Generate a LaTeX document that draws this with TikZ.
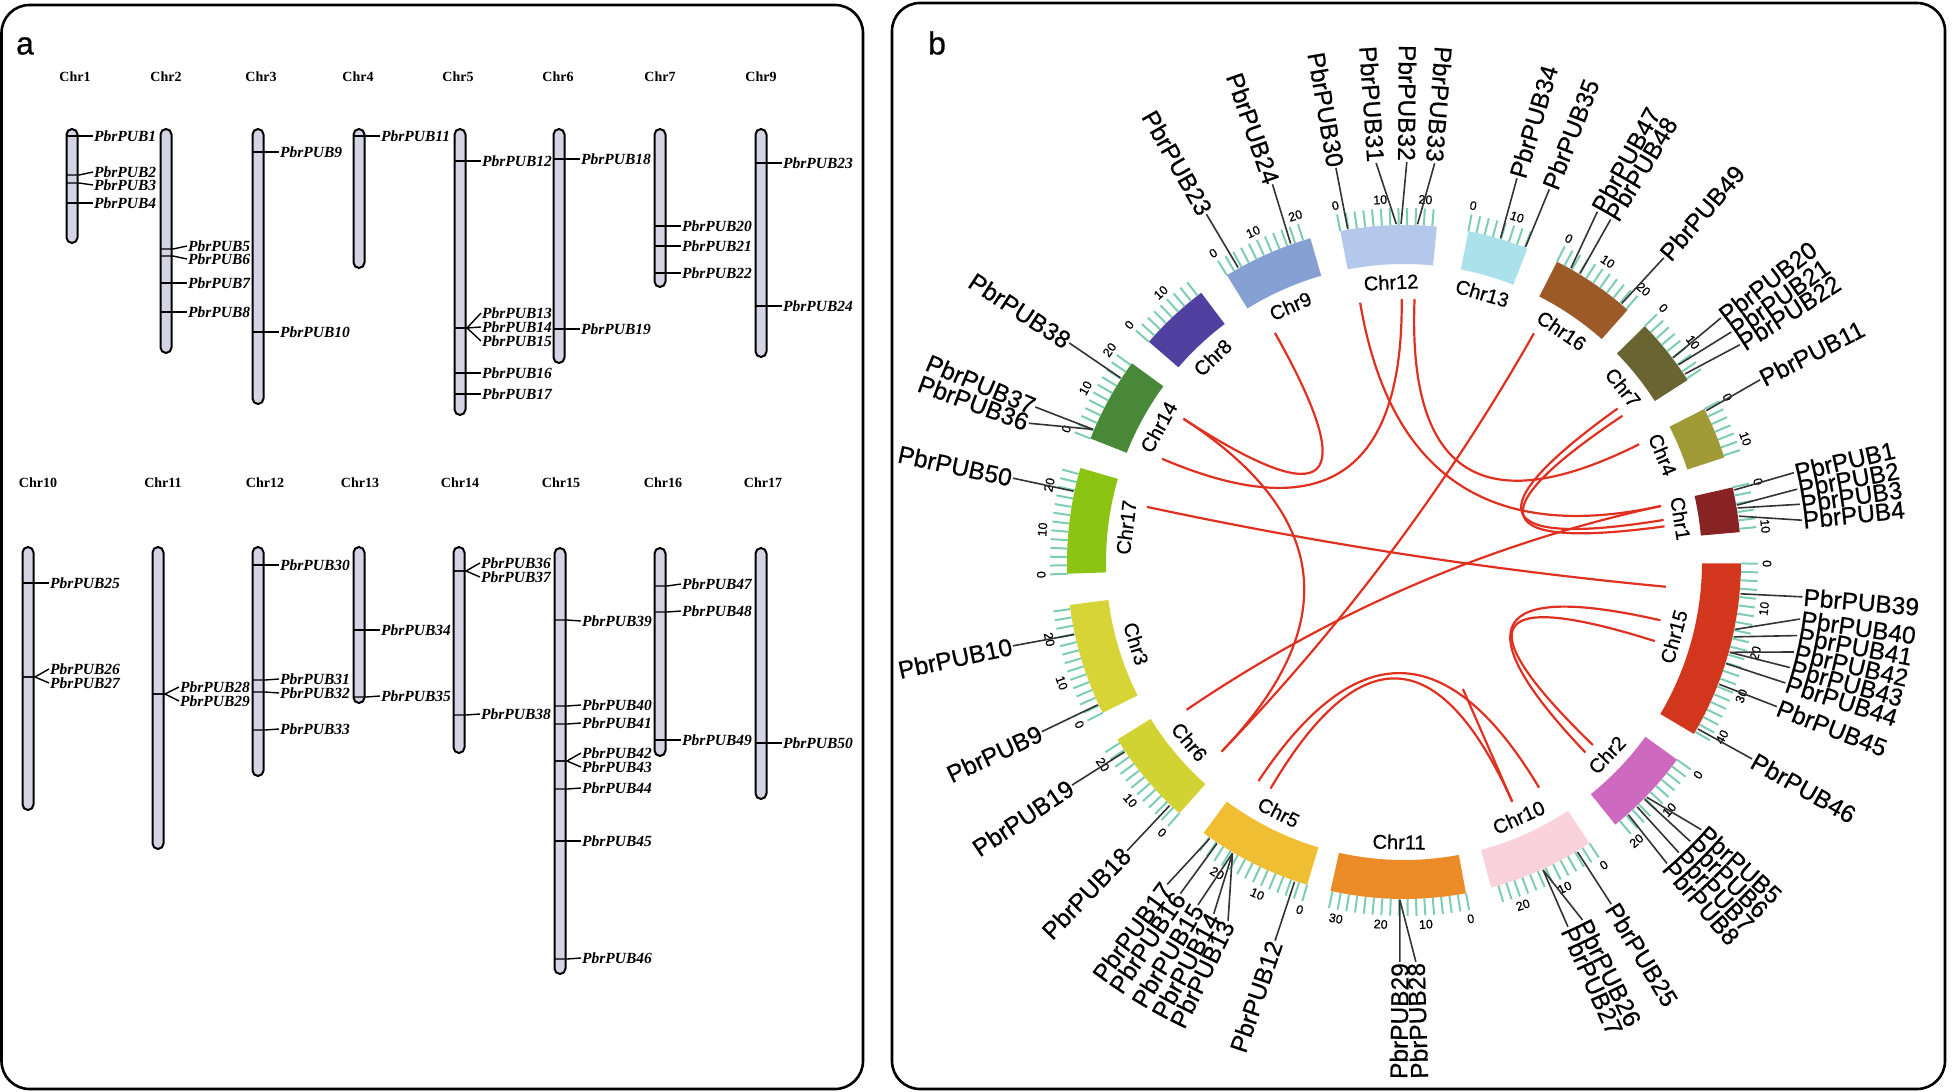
\documentclass[tikz,border=0pt]{standalone}
\usepackage{fontspec}
\setmainfont{Liberation Serif}
\newfontfamily\arialfont{Liberation Sans}[FakeBold=0.6]
\usetikzlibrary{calc}

\definecolor{barfill}{RGB}{212,212,228}
\definecolor{tickcol}{RGB}{125,205,180}
\definecolor{linkred}{RGB}{224,48,32}
\definecolor{chr1}{RGB}{135,35,35}
\definecolor{chr2}{RGB}{205,105,190}
\definecolor{chr3}{RGB}{215,212,55}
\definecolor{chr4}{RGB}{160,155,55}
\definecolor{chr5}{RGB}{240,190,50}
\definecolor{chr6}{RGB}{210,210,50}
\definecolor{chr7}{RGB}{105,100,50}
\definecolor{chr8}{RGB}{80,64,160}
\definecolor{chr9}{RGB}{135,160,212}
\definecolor{chr10}{RGB}{250,210,220}
\definecolor{chr11}{RGB}{236,140,40}
\definecolor{chr12}{RGB}{180,200,235}
\definecolor{chr13}{RGB}{170,225,235}
\definecolor{chr14}{RGB}{72,136,56}
\definecolor{chr15}{RGB}{210,55,30}
\definecolor{chr16}{RGB}{155,90,40}
\definecolor{chr17}{RGB}{140,196,20}

\tikzset{
  panel/.style={draw=black, line width=2.6pt, rounded corners=28pt},
  chrbar/.style={draw=black, line width=2pt, fill=barfill, rounded corners=5.5pt},
  genemark/.style={line width=1.4pt},
  achr/.style={font=\fontsize{14}{14}\selectfont\bfseries},
  alab/.style={font=\fontsize{15.5}{16}\selectfont\bfseries\itshape, anchor=west, inner sep=1pt},
  tickline/.style={draw=tickcol, line width=2pt},
  ticklab/.style={font=\arialfont\fontsize{12.5}{12.5}\selectfont, inner sep=0pt},
  bchr/.style={font=\arialfont\fontsize{20}{20}\selectfont, inner sep=0pt},
  blab/.style={font=\arialfont\fontsize{24.5}{24.5}\selectfont, inner sep=1pt},
  geneline/.style={draw=black!80, line width=1.6pt},
  link/.style={draw=linkred, line width=2.2pt}
}

\begin{document}
\begin{tikzpicture}[x=1pt, y=1pt]
\useasboundingbox (0,0) rectangle (1952,-1092);
\draw[panel] (1.5,-5) rectangle (863,-1089);
\draw[panel] (892,-3) rectangle (1945,-1089);
\node[font=\arialfont\fontsize{32}{32}\selectfont] (pa) at (25,-46) {a};
\node[font=\arialfont\fontsize{32}{32}\selectfont] (pb) at (937,-43) {b};

\foreach \n/\x/\lx/\ya/\yb/\ly in {1/72/75/129/243/77, 2/166/166/129/353/77, 3/258/261/129/404/77,
  4/359/358/129/268/77, 5/460/458/129/415/77, 6/559/558/129/363/77, 7/660/660/129/287/77,
  9/761/761/129/357/77, 10/28/38/547/810/483, 11/158/163/547/849/483, 12/258/265/547/776/483,
  13/359/360/547/703/483, 14/459/460/547/753/483, 15/560/561/548/974/483, 16/660/663/548/756/483,
  17/761/763/548/799/483}{
  \draw[chrbar] (\x-5.5,-\ya) rectangle (\x+5.5,-\yb);
  \node[achr] (ac\n) at (\lx,-\ly) {Chr\n};
}

\foreach \g/\x/\ym/\yt in {1/72/136/136, 2/72/175/172, 3/72/183/185, 4/72/203/203,
  5/166/249/246, 6/166/256/259, 7/166/283/283, 8/166/312/312,
  9/258/152/152, 10/258/332/332, 11/359/136/136,
  12/460/161/161, 13/460/328/313, 14/460/328/327, 15/460/328/341, 16/460/373/373, 17/460/394/394,
  18/559/159/159, 19/559/329/329, 20/660/226/226, 21/660/246/246, 22/660/273/273,
  23/761/163/163, 24/761/306/306, 25/28/583/583, 26/28/677/669, 27/28/677/683,
  28/158/694/687, 29/158/694/701, 30/258/565/565, 31/258/680/679, 32/258/692/693, 33/258/730/729,
  34/359/630/630, 35/359/697/696, 36/459/571/563, 37/459/571/577, 38/459/715/714,
  39/560/620/621, 40/560/706/705, 41/560/724/723, 42/560/761/753, 43/560/761/767,
  44/560/789/788, 45/560/841/841, 46/560/959/958, 47/660/586/584, 48/660/612/611,
  49/660/740/740, 50/761/743/743}{
  \node[alab] (a\g) at (\x+21,-\yt) {PbrPUB\g};
  \draw[genemark] (\x-5.5,-\ym) -- (\x+7,-\ym) -- (a\g.west);
}

\begin{scope}[shift={(1404,-562)}]
\coordinate (o) at (0,0);
\foreach \n/\sa/\lenmb in {12/100.9/23.1, 13/79.0/14.7, 16/63.0/20.4, 7/44.4/16.4, 4/27.0/12.5,
  1/12.8/10.8, 15/-0.25/42.6, 2/-35.9/21.4, 10/-56.6/25.8, 11/-79.4/32.5, 5/-106.7/27.7,
  6/-131.8/23.0, 3/-153.4/27.0, 17/182.0/25.5, 14/158.5/20.5, 8/139.2/17.1, 9/121.7/21.8}{
  \pgfmathsetmacro\ea{\sa-0.714*\lenmb}
  \fill[chr\n] (\sa:298) arc[start angle=\sa, end angle=\ea, radius=298] -- (\ea:337)
    arc[start angle=\ea, end angle=\sa, radius=337] -- cycle;
  \pgfmathtruncatemacro\last{\lenmb}
  \foreach \m in {0,2,...,\last}{
    \pgfmathsetmacro\a{\sa-0.714*\m}
    \draw[tickline] (\a:337) -- (\a:354);
  }
  \foreach \m in {0,10,...,\last}{
    \pgfmathsetmacro\a{\sa-0.714*\m}
    \pgfmathsetmacro\rot{\a<0 ? \a+90 : \a-90}
    \node[ticklab, rotate=\rot] at (\a:363) {\m};
  }
  \pgfmathsetmacro\amid{\sa-0.357*\lenmb}
  \pgfmathsetmacro\rot{\amid<0 ? \amid+90 : \amid-90}
  \node[bchr, rotate=\rot] (bc\n) at (\amid:280) {Chr\n};
}

\foreach \g/\tg/\tl in {1/12.3/12.9, 2/9.7/10.5, 3/9.2/8.3, 4/7.8/6.0, 5/-44.1/-42.0,
  6/-44.6/-44.3, 7/-46.4/-46.6, 8/-48.4/-48.9, 9/-155.0/-154.9, 10/-167.6/-167.9,
  11/26.6/27.1, 12/-108.9/-108.8, 13/-120.5/-116.1, 14/-120.5/-118.4, 15/-120.5/-121.0,
  16/-123.6/-124.0, 17/-125.1/-126.3, 18/-133.9/-133.8, 19/-145.8/-146.1, 20/37.2/37.6,
  21/35.7/35.1, 22/33.8/32.9, 23/119.4/119.6, 24/109.6/109.2, 25/-59.1/-58.8,
  26/-65.7/-63.5, 27/-65.7/-65.8, 28/-90.7/-88.3, 29/-90.7/-90.6, 30/99.6/99.8,
  31/91.3/94.0, 32/90.5/89.6, 33/87.7/85.6, 34/73.4/73.6, 35/68.9/68.7, 36/156.9/159.7,
  37/156.9/157.2, 38/147.0/146.8, 39/-5.4/-5.0, 40/-11.5/-8.2, 41/-12.8/-10.6,
  42/-15.5/-13.0, 43/-15.5/-15.3, 44/-17.5/-17.6, 45/-21.2/-21.2, 46/-29.6/-29.5,
  47/60.4/61.1, 48/58.6/58.9, 49/49.9/49.5, 50/167.9/167.9}{
  \pgfmathtruncatemacro\flip{abs(\tl)>84 ? 1 : 0}
  \coordinate (p\g) at (\tg:338);
  \coordinate (e\g) at (\tg:263);
  \ifnum\flip=1
    \node[blab, rotate=\tl+180, anchor=east] (b\g) at (\tl:400) {PbrPUB\g};
    \draw[geneline] (p\g) -- (b\g.east);
  \else
    \node[blab, rotate=\tl, anchor=west] (b\g) at (\tl:400) {PbrPUB\g};
    \draw[geneline] (p\g) -- (b\g.west);
  \fi
}

\foreach \u/\v in {23/38, 38/18, 36/32, 50/39, 47/18, 19/1, 30/1, 33/11, 3/21, 4/22,
  41/7, 44/5, 16/25, 13/26}
  \draw[link] (e\u) .. controls ($(e\u)!0.667!(o)$) and ($(e\v)!0.667!(o)$) .. (e\v);
\coordinate (s) at (58.9,-126.9);
\draw[link] (s) -- (e26);
\end{scope}
\end{tikzpicture}
\end{document}
